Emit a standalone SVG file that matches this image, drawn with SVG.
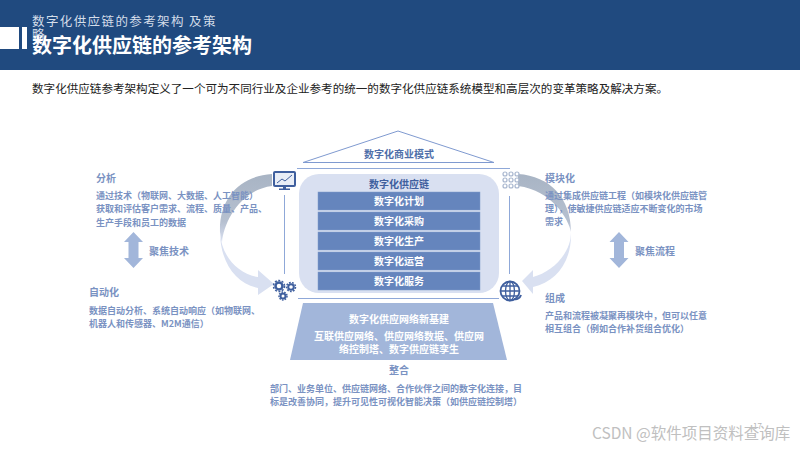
<svg xmlns="http://www.w3.org/2000/svg" width="800" height="450" viewBox="0 0 800 450">
<style>
text{font-family:"Noto Sans CJK SC","Liberation Sans",sans-serif}
.h{font-size:10px;font-weight:700;fill:#7a92c2}
.b{font-size:9px;font-weight:700;fill:#7a92c2}
.c{font-size:10px;font-weight:700;fill:#fff;text-anchor:middle}
.bar{fill:#6585bd;stroke:#7f9ac9;stroke-width:.5}
.ln{stroke:#8fa8d8;stroke-width:1;fill:none}
.ic{fill:#3f5f9e}
</style>
<defs>
<linearGradient id="g1" x1="0" y1="174" x2="0" y2="242" gradientUnits="userSpaceOnUse"><stop offset="0" stop-color="#a8b4c4"/><stop offset=".7" stop-color="#b6c0d0"/><stop offset="1" stop-color="#d9e0f1"/></linearGradient>
</defs>
<rect width="800" height="70" fill="#204a7f"/>
<rect x="0" y="27" width="19" height="22" fill="#fff"/>
<rect x="22" y="27" width="5" height="22" fill="#fff"/>
<text x="32" y="26" font-size="12.500" letter-spacing="1.400" fill="#d5deea">数字化供应链的参考架构 及策</text>
<text x="32" y="39" font-size="12.500" fill="#d5deea">略</text>
<text x="32" y="53" font-size="20" font-weight="700" fill="#fff">数字化供应链的参考架构</text>
<text x="32" y="93" font-size="11.560" fill="#222" textLength="636">数字化供应链参考架构定义了一个可为不同行业及企业参考的统一的数字化供应链系统模型和高层次的变革策略及解决方案。</text>

<g id="connectors">
<path d="M272 174C240 176 219 198 220 232C221 238 221 240 222 242C224 222 240 190 272 186Z" fill="url(#g1)"/>
<path d="M220 232C221 256 238 274 258 277V270L274 284L258 295V288C236 284 220 262 220 232Z" fill="#d9e0f1"/>
<path d="M518 174C550 176 571 198 571 232C569 220 552 190 518 186Z" fill="url(#g1)"/>
<path d="M571 232C571 254 552 272 533 277V270L522 281L533 294V287C556 282 572 262 571 232Z" fill="#d9e0f1"/>
<path class="ln" d="M284.500 195V274M509.500 196V274M297 168.500H510M298 298.500H499"/>
</g>

<g id="roof"><path d="M303 162.500L398 131L494 162.500Z" fill="none" stroke="#7f9ad0" stroke-width="1"/>
<text x="399" y="158" font-size="10" font-weight="700" fill="#4f6fa9" text-anchor="middle">数字化商业模式</text></g>

<g id="core"><rect x="299" y="174" width="200" height="119" rx="20" fill="#d9e0f1"/>
<text x="399" y="188" font-size="10" font-weight="700" fill="#3f5f9e" text-anchor="middle">数字化供应链</text></g>
<g id="plan"><rect class="bar" x="318" y="192" width="162" height="18"/><text class="c" x="399" y="205">数字化计划</text></g>
<g id="purchase"><rect class="bar" x="318" y="212" width="162" height="18"/><text class="c" x="399" y="225">数字化采购</text></g>
<g id="production"><rect class="bar" x="318" y="232" width="162" height="18"/><text class="c" x="399" y="245">数字化生产</text></g>
<g id="operation"><rect class="bar" x="318" y="252" width="162" height="18"/><text class="c" x="399" y="265">数字化运营</text></g>
<g id="service"><rect class="bar" x="318" y="272" width="162" height="18"/><text class="c" x="399" y="285">数字化服务</text></g>

<g id="base"><path d="M303 303H493L507 360H290Z" fill="#a2b6da"/>
<text class="c" x="399" y="323">数字化供应网络新基建</text>
<text class="c" x="399" y="340">互联供应网络、供应网络数据、供应网</text>
<text class="c" x="399" y="353">络控制塔、数字供应链孪生</text></g>

<g id="monitor"><rect x="273" y="171" width="23" height="16" rx="2" fill="#3f5f9e"/><rect x="275" y="173" width="19" height="12" fill="#e8edf6"/>
<path d="M277 183L282 179L285 181L292 175" fill="none" stroke="#3f5f9e" stroke-width="1"/><rect x="283" y="187" width="3" height="2" class="ic"/><rect x="279" y="188.500" width="11" height="1.500" class="ic"/></g>

<g id="gears" fill="none" stroke="#3f5f9e">
<circle cx="279" cy="286" r="3.500" stroke-width="2.500"/><circle cx="279" cy="286" r="5.500" stroke-width="1.500" stroke-dasharray="2 1.500"/>
<circle cx="291" cy="287" r="2.800" stroke-width="2"/><circle cx="291" cy="287" r="4.500" stroke-width="1.500" stroke-dasharray="1.800 1.300"/>
<circle cx="283" cy="296" r="2.500" stroke-width="2"/><circle cx="283" cy="296" r="4" stroke-width="1.500" stroke-dasharray="1.600 1.200"/></g>

<g id="modules" fill="#fff" stroke="#a9b7cf" stroke-width="1.200">
<circle cx="505" cy="174" r="2"/><circle cx="511" cy="174" r="2"/><circle cx="517" cy="174" r="2"/>
<circle cx="505" cy="180" r="2"/><circle cx="511" cy="180" r="2"/><circle cx="517" cy="180" r="2"/>
<circle cx="505" cy="186" r="2"/><circle cx="511" cy="186" r="2"/><circle cx="517" cy="186" r="2"/></g>

<g id="globe" fill="none" stroke="#3f5f9e" stroke-width="1.300"><circle cx="510" cy="291" r="9.500" fill="#fff" stroke-width="1.800"/><ellipse cx="510" cy="291" rx="4.500" ry="9.500"/><path d="M510 281.500V300.500M501 291H519.500M502.500 286H518M502.500 296H518"/><path d="M514 299C517 300 520 298 521 295" stroke-width="2"/></g>

<g id="analysis"><text class="h" x="96" y="182">分析</text>
<text class="b" x="96" y="198.500">通过技术（物联网、大数据、人工智能）</text>
<text class="b" x="96" y="212">获取和评估客户需求、流程、质量、产品、</text>
<text class="b" x="96" y="225.500">生产手段和员工的数据</text></g>

<g id="tech"><path d="M133.500 232L143 242H138.500V258H143L133.500 268L124 258H128.500V242H124Z" fill="#a2b6da"/>
<text class="h" x="149" y="255">聚焦技术</text></g>

<g id="automation"><text class="h" x="89" y="295.500">自动化</text>
<text class="b" x="89" y="313.500">数据自动分析、系统自动响应（如物联网、</text>
<text class="b" x="89" y="327">机器人和传感器、M2M通信）</text></g>

<g id="modular"><text class="h" x="545" y="181.500">模块化</text>
<text class="b" x="545" y="199">通过集成供应链工程（如模块化供应链管</text>
<text class="b" x="545" y="211.500">理），使敏捷供应链适应不断变化的市场</text>
<text class="b" x="545" y="225">需求</text></g>

<g id="process"><path d="M619 232L628.500 242H624V258H628.500L619 268L609.500 258H614V242H609.500Z" fill="#a2b6da"/>
<text class="h" x="635" y="255">聚焦流程</text></g>

<g id="compose"><text class="h" x="545" y="301.500">组成</text>
<text class="b" x="545" y="318.500">产品和流程被凝聚再模块中，但可以任意</text>
<text class="b" x="545" y="331.500">相互组合（例如合作补货组合优化）</text></g>

<g id="integration"><text class="h" x="399" y="373.500" text-anchor="middle">整合</text>
<text class="b" x="270" y="392">部门、业务单位、供应链网络、合作伙伴之间的数字化连接，目</text>
<text class="b" x="270" y="405">标是改善协同，提升可见性可视化智能决策（如供应链控制塔）</text></g>

<text x="753" y="429" font-size="8" fill="#b8b8b8">17</text>
<text x="592" y="439" font-size="15.500" fill="#c0c0c0">CSDN @软件项目资料查询库</text>
</svg>
